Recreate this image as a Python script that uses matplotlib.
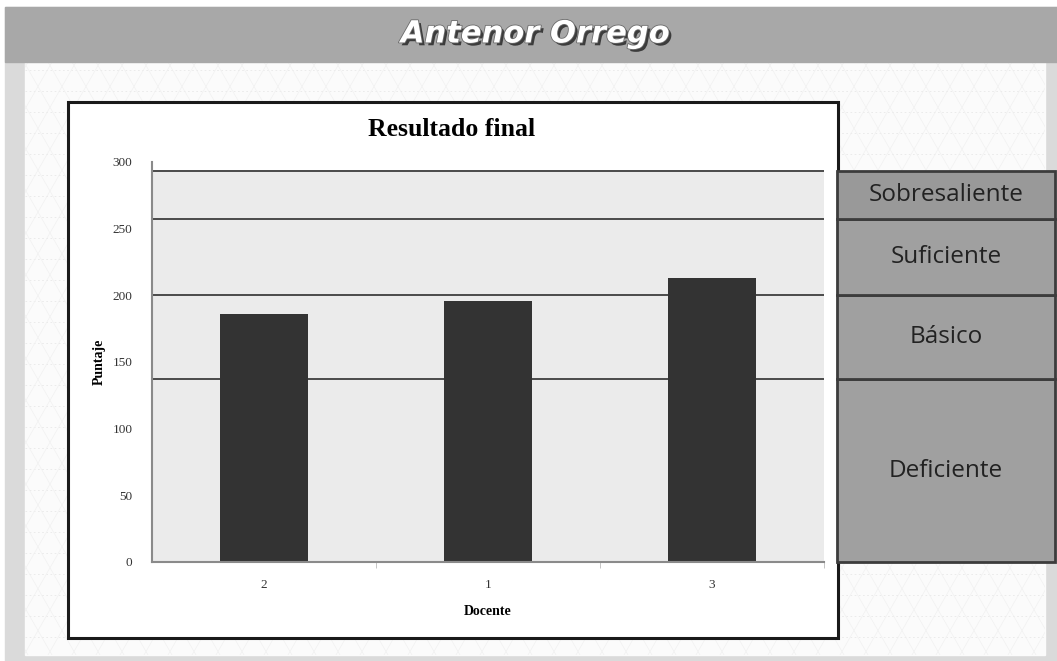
import matplotlib.pyplot as plt
import matplotlib.patheffects as pe
from matplotlib.patches import Rectangle
import numpy as np

# datos
docentes = ["2", "1", "3"]
puntajes = [186, 196, 213]
niveles = ["Deficiente", "Básico", "Suficiente", "Sobresaliente"]
limites = [0, 137, 200, 257, 293]
colegio = "Antenor Orrego"

W, H = 1057, 661
fig = plt.figure(figsize=(W / 100, H / 100), dpi=100)
fig.patch.set_facecolor("white")

# fondo de la pagina en pixeles
bg = fig.add_axes([0, 0, 1, 1])
bg.axis("off")
bg.add_patch(Rectangle((5, 7), W - 5, H - 7, color="#dadada", zorder=0))
hoja = Rectangle((25, 62), 1020, 593, color="#fbfbfb", zorder=1)
bg.add_patch(hoja)
# trama de triangulos tenue
for yy in np.arange(70, 655, 21):
    l, = bg.plot([25, 1045], [yy, yy], color="#e8e8e8", lw=0.6, ls=(0, (2, 3)), zorder=2)
    l.set_clip_path(hoja)
for xx in np.arange(-600, 1100, 24):
    for xs in ([xx, xx + 340], [xx + 340, xx]):
        l, = bg.plot(xs, [62, 655], color="#f1f1f1", lw=0.5, zorder=2)
        l.set_clip_path(hoja)
bg.set_xlim(0, W)
bg.set_ylim(H, 0)
# banda del titulo
bg.add_patch(Rectangle((5, 7), W - 5, 55, color="#a8a8a8", zorder=3))
bg.text(535, 34, colegio, color="white", fontsize=22, fontweight="bold",
        fontstyle="italic", family="DejaVu Sans", ha="center", va="center", zorder=4,
        path_effects=[pe.withSimplePatchShadow(offset=(2, -2), shadow_rgbFace="#303030", alpha=0.9),
                      pe.withStroke(linewidth=1.2, foreground="#6a6a6a")])
# marco del grafico
bg.add_patch(Rectangle((68, 102), 770, 536, facecolor="white", edgecolor="#1a1a1a",
                       lw=2.2, zorder=3))

# grafico de barras
ax = fig.add_axes([152 / W, (H - 562) / H, 672 / W, 400 / H])
ax.set_facecolor("white")
ax.set_xlim(-0.5, len(docentes) - 0.5)
ax.set_ylim(0, 300)
ax.axhspan(0, limites[-1], color="#ebebeb", zorder=0)
for lim in limites[1:]:
    ax.axhline(lim, color="#4a4a4a", lw=1.4, zorder=1)
x = np.arange(len(docentes))
ax.bar(x, puntajes, width=0.39, color="#333333", zorder=2)

for s in ["top", "right"]:
    ax.spines[s].set_visible(False)
for s in ["left", "bottom"]:
    ax.spines[s].set_color("#8a8a8a")
    ax.spines[s].set_linewidth(1.5)
ax.set_yticks(range(0, 301, 50))
ax.set_xticks(x)
ax.set_xticklabels(docentes)
ax.set_xticks(np.arange(0.5, len(docentes), 1), minor=True)
ax.tick_params(axis="y", length=0, pad=14, labelsize=9.5, labelcolor="#333333")
ax.tick_params(axis="x", which="major", length=0, pad=12, labelsize=9.5, labelcolor="#333333")
ax.tick_params(axis="x", which="minor", length=4, color="#bbbbbb", direction="out")
for lab in ax.get_xticklabels() + ax.get_yticklabels():
    lab.set_family("Liberation Serif")
ax.set_xlabel("Docente", family="Liberation Serif", fontweight="bold", fontsize=10, labelpad=10)
ax.set_ylabel("Puntaje", family="Liberation Serif", fontweight="bold", fontsize=10, labelpad=5)
fig.text(452 / W, 1 - 130 / H, "Resultado final", family="Liberation Serif",
         fontweight="bold", fontsize=18.5, ha="center", va="center")

# cuadros de niveles
nx = fig.add_axes([837 / W, (H - 562) / H, 218 / W, 400 / H])
nx.set_xlim(0, 1)
nx.set_ylim(0, 300)
nx.axis("off")
alturas = np.diff(limites)
colores = ["#a0a0a0", "#a0a0a0", "#a0a0a0", "#999999"]
nx.bar(0.5, alturas, bottom=limites[:-1], width=1, color=colores,
       edgecolor="#3c3c3c", lw=2, clip_on=False)
for nombre, base, alto in zip(niveles, limites[:-1], alturas):
    nx.text(0.5, base + alto / 2, nombre, ha="center", va="center",
            family="Open Sans", fontsize=17.5, color="#222222")

fig.savefig("out.png", dpi=100)
